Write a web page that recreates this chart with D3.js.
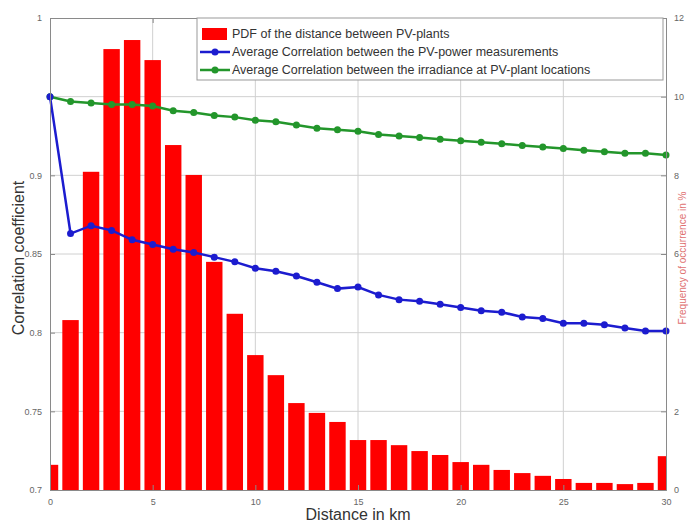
<!DOCTYPE html>
<html>
<head>
<meta charset="utf-8">
<script src="https://cdn.jsdelivr.net/npm/d3@7"></script>
<style>
  html, body { margin: 0; padding: 0; background: #fff; }
  svg { display: block; font-family: "Liberation Sans", Arial, sans-serif; }
</style>
</head>
<body>
<svg id="chart" width="692" height="527"></svg>
<script>
// Distance bins in km
const distances = d3.range(0, 31);

// Frequency of occurrence of each distance bin, in %
const pdfPercent = [0.64, 4.32, 8.09, 11.21, 11.44, 10.93, 8.77, 8.01, 5.80, 4.48,
  3.43, 2.92, 2.21, 1.96, 1.73, 1.27, 1.27, 1.14, 0.99, 0.89,
  0.71, 0.64, 0.51, 0.43, 0.36, 0.28, 0.18, 0.18, 0.15, 0.18, 0.86];

// Average correlation of PV-power measurements per distance bin
const corrPower = [0.950, 0.863, 0.868, 0.865, 0.859, 0.856, 0.853, 0.851, 0.848, 0.845,
  0.841, 0.839, 0.836, 0.832, 0.828, 0.829, 0.824, 0.821, 0.820, 0.818,
  0.816, 0.814, 0.813, 0.810, 0.809, 0.806, 0.806, 0.805, 0.803, 0.801, 0.801];

// Average correlation of irradiance at PV-plant locations per distance bin
const corrIrradiance = [0.950, 0.947, 0.946, 0.945, 0.945, 0.944, 0.941, 0.940, 0.938, 0.937,
  0.935, 0.934, 0.932, 0.930, 0.929, 0.928, 0.926, 0.925, 0.924, 0.923,
  0.922, 0.921, 0.920, 0.919, 0.918, 0.917, 0.916, 0.915, 0.914, 0.914, 0.913];

// Axis ticks
const xTicks = [0, 5, 10, 15, 20, 25, 30];
const leftTicks = [0.7, 0.75, 0.8, 0.85, 0.9, 1];
const leftGrid = [0.7, 0.75, 0.8, 0.85, 0.9, 0.95, 1];
const rightTicks = [0, 2, 6, 8, 10, 12];

const legendLabels = [
  "PDF of the distance between PV-plants",
  "Average Correlation between the PV-power measurements",
  "Average Correlation between the irradiance at PV-plant locations"
];

const colors = { bar: "#ff0000", power: "#1c1ccf", irr: "#23962b" };

const svg = d3.select("#chart");
const L = 50, R = 666, T = 18, B = 490;

const x = d3.scaleLinear().domain([0, 30]).range([L, R]);
const yLeft = d3.scaleLinear().domain([0.7, 1]).range([B, T]);
const yRight = d3.scaleLinear().domain([0, 12]).range([B, T]);
const step = x(1) - x(0);
const barW = step * 0.8;

svg.append("defs").append("clipPath").attr("id", "plotClip")
  .append("rect").attr("x", L).attr("y", T).attr("width", R - L).attr("height", B - T);

// grid
const grid = svg.append("g").attr("stroke", "#d0d0d0").attr("stroke-width", 1);
grid.selectAll("line.v").data(xTicks.slice(1, -1)).join("line")
  .attr("x1", d => x(d)).attr("x2", d => x(d)).attr("y1", T).attr("y2", B);
grid.selectAll("line.h").data(leftGrid.slice(1, -1)).join("line")
  .attr("x1", L).attr("x2", R).attr("y1", d => yLeft(d)).attr("y2", d => yLeft(d));

// bars
svg.append("g").attr("clip-path", "url(#plotClip)")
  .selectAll("rect").data(distances).join("rect")
  .attr("x", d => x(d) - barW / 2)
  .attr("width", barW)
  .attr("y", (d, i) => yRight(pdfPercent[i]))
  .attr("height", (d, i) => B - yRight(pdfPercent[i]))
  .attr("fill", colors.bar);

// correlation lines
function drawSeries(values, color) {
  const line = d3.line().x((d, i) => x(distances[i])).y(d => yLeft(d));
  const g = svg.append("g");
  g.append("path").datum(values).attr("d", line)
    .attr("fill", "none").attr("stroke", color).attr("stroke-width", 2.5);
  g.selectAll("circle").data(values).join("circle")
    .attr("cx", (d, i) => x(distances[i])).attr("cy", d => yLeft(d))
    .attr("r", 3.5).attr("fill", color);
}
drawSeries(corrIrradiance, colors.irr);
drawSeries(corrPower, colors.power);

// axes
const axisColor = "#8a8a8a";
const tickText = "#666";
const xAxis = svg.append("g").attr("transform", `translate(0,${B})`)
  .call(d3.axisBottom(x).tickValues(xTicks).tickFormat(d3.format("d")).tickSize(-5).tickPadding(9));
const xTop = svg.append("g").attr("transform", `translate(0,${T})`)
  .call(d3.axisTop(x).tickValues(xTicks).tickFormat("").tickSize(-5));
const yL = svg.append("g").attr("transform", `translate(${L},0)`)
  .call(d3.axisLeft(yLeft).tickValues(leftTicks).tickFormat(d => String(d)).tickSize(-5).tickPadding(8));
const yR = svg.append("g").attr("transform", `translate(${R},0)`)
  .call(d3.axisRight(yRight).tickValues(rightTicks).tickFormat(d3.format("d")).tickSize(-5).tickPadding(8));
[xAxis, xTop, yL, yR].forEach(a => {
  a.select(".domain").attr("stroke", axisColor);
  a.selectAll(".tick line").attr("stroke", axisColor);
  a.selectAll(".tick text").attr("fill", tickText).attr("font-size", 9);
});

// axis titles
svg.append("text").attr("x", (L + R) / 2).attr("y", 520)
  .attr("text-anchor", "middle").attr("font-size", 16).attr("fill", "#333")
  .text("Distance in km");
svg.append("text").attr("transform", `translate(24,${(T + B) / 2 + 4}) rotate(-90)`)
  .attr("text-anchor", "middle").attr("font-size", 16).attr("fill", "#333")
  .text("Correlation coefficient");
svg.append("text").attr("transform", `translate(686,258) rotate(-90)`)
  .attr("text-anchor", "middle").attr("font-size", 10).attr("fill", "#e07070")
  .text("Frequency of occurrence in %");

// legend
const lg = svg.append("g");
lg.append("rect").attr("x", 197).attr("y", 18).attr("width", 466).attr("height", 62)
  .attr("fill", "#fff").attr("stroke", "#999");
const rowY = [34, 52, 70];
lg.append("rect").attr("x", 202).attr("y", rowY[0] - 6).attr("width", 25).attr("height", 12)
  .attr("fill", colors.bar);
[[colors.power, rowY[1]], [colors.irr, rowY[2]]].forEach(([c, yy]) => {
  lg.append("line").attr("x1", 200).attr("x2", 230).attr("y1", yy).attr("y2", yy)
    .attr("stroke", c).attr("stroke-width", 2.5);
  lg.append("circle").attr("cx", 215).attr("cy", yy).attr("r", 3.5).attr("fill", c);
});
lg.selectAll("text").data(legendLabels).join("text")
  .attr("x", 232).attr("y", (d, i) => rowY[i] + 4)
  .attr("font-size", 12.5).attr("fill", "#333")
  .text(d => d);
</script>
</body>
</html>
